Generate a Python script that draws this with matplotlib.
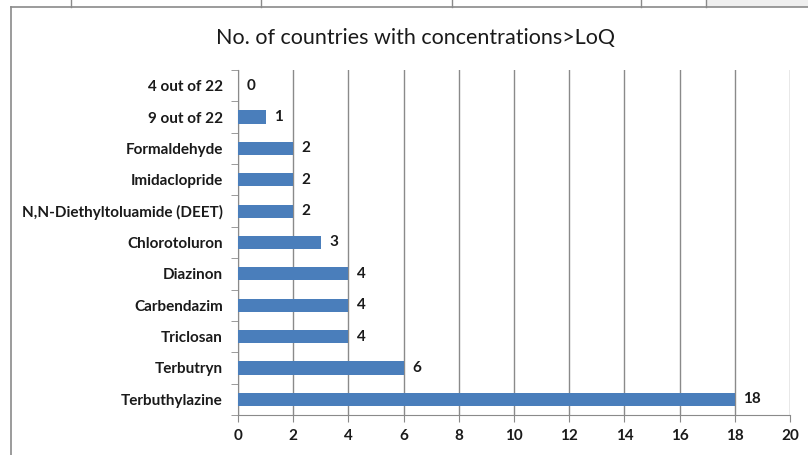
import matplotlib.pyplot as plt
from matplotlib.lines import Line2D
from matplotlib.patches import Rectangle
import numpy as np

# compounds listed bottom-to-top, as they appear on the axis
compounds = ['Terbuthylazine', 'Terbutryn', 'Triclosan', 'Carbendazim', 'Diazinon',
             'Chlorotoluron', 'N,N-Diethyltoluamide (DEET)', 'Imidaclopride',
             'Formaldehyde', '9 out of 22', '4 out of 22']
n_countries = [18, 6, 4, 4, 4, 3, 2, 2, 2, 1, 0]
xticks = list(range(0, 21, 2))

plt.rcParams['font.family'] = ['Lato', 'DejaVu Sans']

W, H = 808, 455
fig = plt.figure(figsize=(W / 100, H / 100), dpi=100)

# sheet cells peeking above the chart object
fig.patches.append(Rectangle((706 / W, 1 - 7 / H), 1, 7 / H, transform=fig.transFigure,
                             facecolor='#efefef', edgecolor='none', zorder=0))
for px in [71, 261, 452, 641, 706]:
    fig.lines.append(Line2D([px / W, px / W], [1 - 7 / H, 1], transform=fig.transFigure,
                            color='#8a8a8a', lw=1))
# chart frame
fig.lines.append(Line2D([11 / W, 11 / W], [0, 1 - 7 / H], transform=fig.transFigure,
                        color='#8a8a8a', lw=1.2))
fig.lines.append(Line2D([11 / W, 1], [1 - 7 / H, 1 - 7 / H], transform=fig.transFigure,
                        color='#8a8a8a', lw=1.2))

ax = fig.add_axes([238 / W, 1 - 415 / H, (790 - 238) / W, (415 - 70) / H])
y = np.arange(len(compounds))
ax.barh(y, n_countries, height=0.42, color='#4a7ebb', zorder=3)
for yi, v in zip(y, n_countries):
    ax.text(v + 0.3, yi, str(v), va='center', ha='left', fontsize=11,
            fontweight='bold', color='#1a1a1a')

ax.set_xlim(0, 20)
ax.set_ylim(-0.5, len(compounds) - 0.5)
ax.set_xticks(xticks)
ax.set_xticklabels([str(t) for t in xticks], fontsize=11, fontweight='bold', color='#1a1a1a')
ax.set_yticks(y)
ax.set_yticklabels(compounds, fontsize=11, fontweight='bold', color='#1a1a1a')
ax.set_yticks(np.arange(-0.5, len(compounds), 1), minor=True)
ax.tick_params(axis='y', which='major', length=0, pad=11)
ax.tick_params(axis='y', which='minor', length=5, color='#8a8a8a', direction='out')
ax.tick_params(axis='x', length=5, color='#8a8a8a', direction='out', pad=5)
ax.grid(axis='x', color='#8a8a8a', lw=1, zorder=0)
for side in ['top', 'right']:
    ax.spines[side].set_visible(False)
for side in ['left', 'bottom']:
    ax.spines[side].set_color('#8a8a8a')

fig.text(416 / W, 1 - 38 / H, 'No. of countries with concentrations>LoQ',
         ha='center', va='center', fontsize=15.5, color='#1a1a1a')

fig.savefig('out.png', dpi=100)
